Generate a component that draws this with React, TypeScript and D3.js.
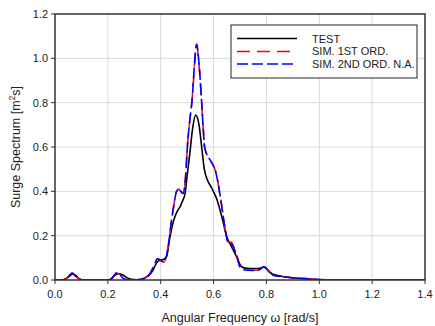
import React from "react";
import * as d3 from "d3";

const xTicks = [0, 0.2, 0.4, 0.6, 0.8, 1.0, 1.2, 1.4];
const yTicks = [0, 0.2, 0.4, 0.6, 0.8, 1.0, 1.2];

const testW = [0, 0.02, 0.04, 0.055, 0.065, 0.078, 0.09, 0.105, 0.2, 0.21, 0.225, 0.24, 0.255, 0.27, 0.29, 0.31, 0.33, 0.35, 0.37, 0.38, 0.39, 0.40, 0.41, 0.422, 0.435, 0.445, 0.454, 0.465, 0.473, 0.482, 0.492, 0.50, 0.51, 0.52, 0.532, 0.545, 0.555, 0.565, 0.577, 0.593, 0.612, 0.631, 0.65, 0.668, 0.687, 0.706, 0.725, 0.75, 0.776, 0.791, 0.813, 0.851, 0.9, 0.95, 1.0, 1.05, 1.4];
const testV = [0, 0, 0.005, 0.018, 0.026, 0.022, 0.007, 0, 0, 0.004, 0.02, 0.028, 0.024, 0.012, 0.003, 0.001, 0.004, 0.016, 0.042, 0.068, 0.085, 0.09, 0.092, 0.105, 0.195, 0.25, 0.286, 0.315, 0.33, 0.355, 0.39, 0.47, 0.57, 0.677, 0.744, 0.70, 0.60, 0.50, 0.45, 0.415, 0.365, 0.286, 0.195, 0.15, 0.105, 0.06, 0.053, 0.052, 0.053, 0.06, 0.033, 0.018, 0.01, 0.005, 0.002, 0, 0];

const sim1W = [0, 0.03, 0.05, 0.065, 0.08, 0.1, 0.21, 0.22, 0.233, 0.245, 0.26, 0.28, 0.32, 0.34, 0.36, 0.375, 0.388, 0.40, 0.41, 0.42, 0.43, 0.44, 0.45, 0.46, 0.468, 0.476, 0.485, 0.493, 0.502, 0.51, 0.52, 0.528, 0.536, 0.545, 0.553, 0.56, 0.566, 0.575, 0.585, 0.595, 0.605, 0.615, 0.625, 0.635, 0.645, 0.655, 0.668, 0.68, 0.69, 0.70, 0.72, 0.745, 0.77, 0.79, 0.807, 0.826, 0.86, 0.9, 0.95, 1.0, 1.05, 1.1, 1.4];
const sim1V = [0, 0, 0.012, 0.03, 0.014, 0, 0, 0.014, 0.031, 0.024, 0.006, 0, 0.002, 0.01, 0.03, 0.065, 0.095, 0.09, 0.08, 0.1, 0.165, 0.26, 0.34, 0.40, 0.41, 0.40, 0.39, 0.45, 0.62, 0.72, 0.83, 0.97, 1.06, 0.97, 0.84, 0.70, 0.60, 0.565, 0.545, 0.525, 0.50, 0.45, 0.38, 0.30, 0.22, 0.172, 0.17, 0.135, 0.1, 0.06, 0.045, 0.044, 0.045, 0.058, 0.045, 0.022, 0.015, 0.01, 0.006, 0.002, 0.001, 0, 0];

const sim2W = [0, 0.03, 0.05, 0.065, 0.08, 0.1, 0.21, 0.22, 0.233, 0.245, 0.26, 0.28, 0.32, 0.34, 0.36, 0.375, 0.388, 0.40, 0.41, 0.42, 0.43, 0.44, 0.45, 0.46, 0.468, 0.476, 0.485, 0.493, 0.502, 0.51, 0.52, 0.528, 0.536, 0.545, 0.553, 0.56, 0.566, 0.575, 0.585, 0.595, 0.605, 0.615, 0.625, 0.635, 0.645, 0.655, 0.668, 0.68, 0.69, 0.70, 0.72, 0.745, 0.77, 0.79, 0.807, 0.826, 0.86, 0.9, 0.95, 1.0, 1.05, 1.1, 1.4];
const sim2V = [0, 0, 0.014, 0.033, 0.015, 0, 0, 0.015, 0.033, 0.025, 0.006, 0, 0.002, 0.01, 0.03, 0.066, 0.096, 0.088, 0.08, 0.1, 0.165, 0.26, 0.34, 0.40, 0.41, 0.40, 0.39, 0.45, 0.62, 0.72, 0.83, 0.98, 1.065, 0.975, 0.84, 0.70, 0.60, 0.565, 0.545, 0.525, 0.50, 0.45, 0.38, 0.30, 0.22, 0.168, 0.162, 0.135, 0.1, 0.06, 0.045, 0.043, 0.045, 0.058, 0.045, 0.022, 0.015, 0.01, 0.006, 0.002, 0.001, 0, 0];

const legendLabels = ["TEST", "SIM. 1ST ORD.", "SIM. 2ND ORD. N.A."];

const W = 435, H = 326;
const m = { left: 55, right: 425, top: 14, bottom: 280 };
const font = "Arial, 'Liberation Sans', sans-serif";

export default function App() {
  const x = d3.scaleLinear().domain([0, 1.4]).range([m.left, m.right]);
  const y = d3.scaleLinear().domain([0, 1.2]).range([m.bottom, m.top]);
  const line = d3.line<[number, number]>().x(d => x(d[0])).y(d => y(d[1])).curve(d3.curveMonotoneX);
  const test = line(testW.map((w, i) => [w, testV[i]] as [number, number]))!;
  const s1 = line(sim1W.map((w, i) => [w, sim1V[i]] as [number, number]))!;
  const s2 = line(sim2W.map((w, i) => [w, sim2V[i]] as [number, number]))!;
  const fmt = d3.format(".1f");
  return (
    <svg width={W} height={H} style={{ position: "absolute", left: 0, top: 0, background: "#fff" }} fontFamily={font}>
      <defs>
        <clipPath id="pc"><rect x={m.left} y={m.top} width={m.right - m.left} height={m.bottom - m.top} /></clipPath>
      </defs>
      {xTicks.slice(1, -1).map(t => (
        <line key={"gx" + t} x1={x(t)} x2={x(t)} y1={m.top} y2={m.bottom} stroke="#d9d9d9" strokeWidth={1} />
      ))}
      {yTicks.slice(1, -1).map(t => (
        <line key={"gy" + t} x1={m.left} x2={m.right} y1={y(t)} y2={y(t)} stroke="#d9d9d9" strokeWidth={1} />
      ))}
      <g clipPath="url(#pc)" fill="none">
        <path d={test} stroke="#000" strokeWidth={1.6} />
        <path d={s1} stroke="#ff0000" strokeWidth={1.6} strokeDasharray="13,7" />
        <path d={s2} stroke="#0000ff" strokeWidth={1.6} strokeDasharray="11,4" />
      </g>
      <rect x={m.left} y={m.top} width={m.right - m.left} height={m.bottom - m.top} fill="none" stroke="#333" strokeWidth={1.5} />
      {xTicks.map(t => (
        <g key={"tx" + t}>
          <line x1={x(t)} x2={x(t)} y1={m.bottom} y2={m.bottom + 4} stroke="#333" strokeWidth={1} />
          <text x={x(t)} y={298} textAnchor="middle" fontSize={11} fill="#222">{fmt(t)}</text>
        </g>
      ))}
      {yTicks.map(t => (
        <g key={"ty" + t}>
          <line x1={m.left - 4} x2={m.left} y1={y(t)} y2={y(t)} stroke="#333" strokeWidth={1} />
          <text x={48} y={y(t) + 4} textAnchor="end" fontSize={11} fill="#222">{fmt(t)}</text>
        </g>
      ))}
      <text x={240} y={322} textAnchor="middle" fontSize={12.5} fill="#222">Angular Frequency ω [rad/s]</text>
      <text transform={`translate(20,147) rotate(-90)`} textAnchor="middle" fontSize={12.5} fill="#222">
        Surge Spectrum [m<tspan dy={-5} fontSize={8.5}>2</tspan><tspan dy={5}>s]</tspan>
      </text>
      <rect x={231} y={25} width={186} height={53} fill="#fff" stroke="#222" strokeWidth={1} />
      <line x1={237} x2={297} y1={38.5} y2={38.5} stroke="#000" strokeWidth={1.6} />
      <line x1={237} x2={295} y1={51.5} y2={51.5} stroke="#ff0000" strokeWidth={1.6} strokeDasharray="13,7" />
      <line x1={237} x2={294} y1={64} y2={64} stroke="#0000ff" strokeWidth={1.6} strokeDasharray="11,4" />
      {legendLabels.map((l, i) => (
        <text key={l} x={312} y={42.5 + i * 12.8} fontSize={11} fill="#222">{l}</text>
      ))}
    </svg>
  );
}
